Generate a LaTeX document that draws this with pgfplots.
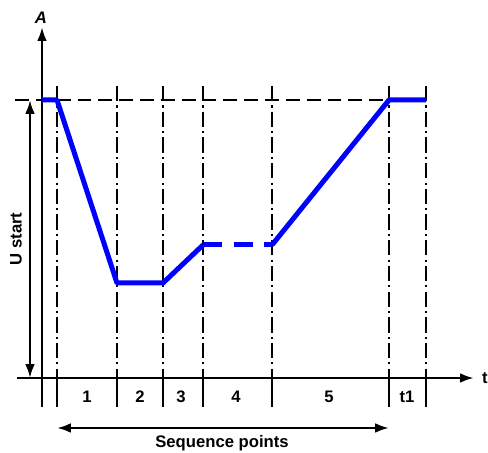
\documentclass[border=0pt]{standalone}
\usepackage{pgfplots}
\pgfplotsset{compat=1.18}
\usepackage{fontspec}
\setmainfont{Liberation Sans}
\usetikzlibrary{arrows.meta}
\begin{document}
\begin{tikzpicture}[lbl/.style={font=\bfseries\fontsize{12}{14}\selectfont, inner sep=0pt}]
\begin{axis}[
  x=0.72pt, y=0.72pt,
  xmin=0, xmax=488, ymin=0, ymax=453,
  hide axis, clip=false,
]
% bounding box
\addplot[draw=none] coordinates {(0,0) (488,453)};
% vertical dash-dot lines
\pgfplotsinvokeforeach{57,117,163,203,272,389,426}{
  \addplot[black, line width=1.6pt, dash pattern=on 11pt off 3pt on 1.5pt off 3pt] coordinates {(#1,367) (#1,75)};
  \addplot[black, line width=1.6pt] coordinates {(#1,75) (#1,46)};
}
% horizontal dashed reference line
\addplot[black, line width=1.6pt, dash pattern=on 10pt off 5pt] coordinates {(15,353) (430,353)};
% axes
\addplot[black, line width=1.9pt, -{Latex[length=10pt,width=7pt]}] coordinates {(42,46) (42,426)};
\addplot[black, line width=1.9pt, -{Latex[length=10pt,width=7pt]}] coordinates {(17,75) (474,75)};
% U start arrow
\addplot[black, line width=1.7pt, {Latex[length=10pt,width=7pt]}-{Latex[length=10pt,width=7pt]}] coordinates {(30,75) (30,353)};
% sequence points arrow
\addplot[black, line width=1.7pt, {Latex[length=10pt,width=7pt]}-{Latex[length=10pt,width=7pt]}] coordinates {(57,25) (389,25)};
% blue curve
\addplot[blue, line width=3.6pt, line join=round] coordinates {(42,353) (57,353) (117,170) (163,170) (203,208)};
\addplot[blue, line width=3.6pt, dash pattern=on 14pt off 8pt] coordinates {(203,208) (272,208)};
\addplot[blue, line width=3.6pt, line join=round] coordinates {(272,208) (389,353) (426,353)};
% labels
\node[lbl] at (axis cs:41,435) {\itshape A};
\node[lbl] at (axis cs:485,75) {t};
\node[lbl] at (axis cs:87,56) {1};
\node[lbl] at (axis cs:140,56) {2};
\node[lbl] at (axis cs:181,56) {3};
\node[lbl] at (axis cs:236,56) {4};
\node[lbl] at (axis cs:329,56) {5};
\node[lbl] at (axis cs:407,56) {t1};
\node[lbl] at (axis cs:222,10) {Sequence points};
\node[lbl, rotate=90] at (axis cs:16,214) {U start};
\end{axis}
\end{tikzpicture}
\end{document}
